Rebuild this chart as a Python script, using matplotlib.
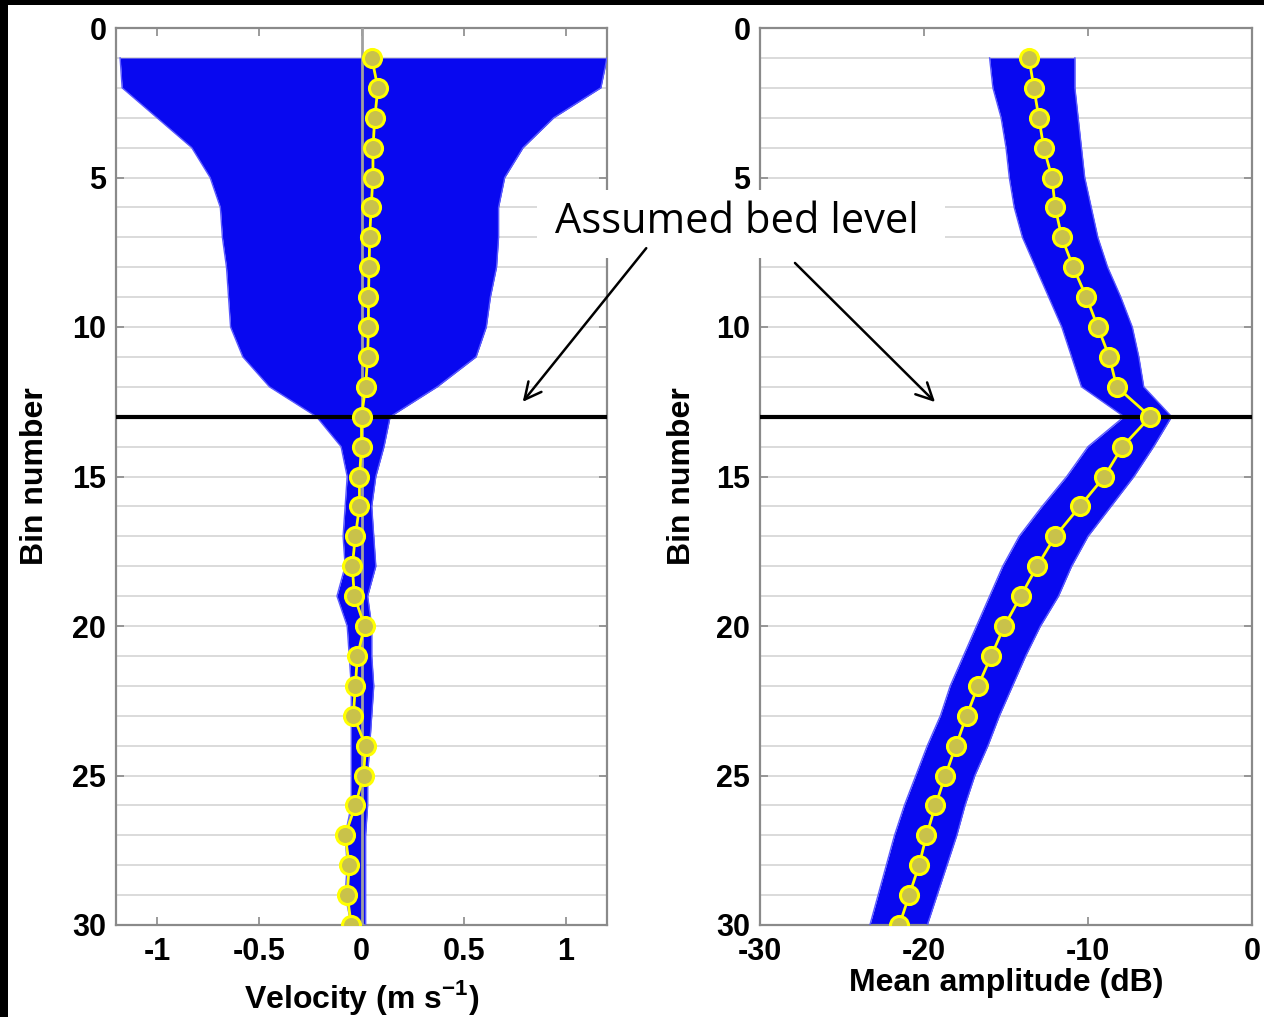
import numpy as np
import matplotlib
matplotlib.use('Agg')
import matplotlib.pyplot as plt
from matplotlib.patches import Rectangle, FancyArrowPatch
from matplotlib.ticker import MultipleLocator

# bins 1..30
bins = np.arange(1, 31)

# velocity panel: envelope of all profiles and the mean profile
vel_low = [-1.18, -1.17, -1.00, -0.83, -0.74, -0.69, -0.68, -0.66, -0.65, -0.64,
           -0.58, -0.45, -0.22, -0.10, -0.07, -0.08, -0.09, -0.08, -0.12, -0.07,
           -0.06, -0.05, -0.05, -0.05, -0.05, -0.05, -0.08, -0.07, -0.08, -0.05]
vel_high = [1.20, 1.17, 0.94, 0.79, 0.70, 0.67, 0.67, 0.66, 0.63, 0.61,
            0.56, 0.37, 0.14, 0.11, 0.07, 0.05, 0.06, 0.07, 0.03, 0.05,
            0.05, 0.06, 0.05, 0.04, 0.03, 0.03, 0.02, 0.02, 0.02, 0.02]
vel_mean = [0.05, 0.08, 0.065, 0.056, 0.056, 0.047, 0.04, 0.037, 0.034, 0.034,
            0.03, 0.02, 0.0, 0.0, -0.01, -0.01, -0.03, -0.045, -0.035, 0.015,
            -0.02, -0.03, -0.04, 0.02, 0.01, -0.03, -0.08, -0.06, -0.07, -0.05]

# amplitude panel
amp_low = [-16.0, -15.8, -15.3, -15.0, -14.8, -14.5, -14.0, -13.2, -12.4, -11.6,
           -11.0, -10.4, -7.8, -10.0, -11.3, -12.8, -14.2, -15.2, -16.0, -16.8,
           -17.6, -18.4, -19.0, -19.8, -20.5, -21.2, -21.8, -22.3, -22.8, -23.3]
amp_high = [-10.8, -10.8, -10.6, -10.4, -10.2, -9.8, -9.4, -8.8, -8.0, -7.3,
            -6.9, -6.6, -4.9, -6.0, -7.2, -8.6, -10.0, -11.0, -11.8, -12.9,
            -13.8, -14.6, -15.4, -16.1, -16.9, -17.5, -18.0, -18.6, -19.2, -19.8]
amp_mean = [-13.6, -13.3, -13.0, -12.7, -12.2, -12.0, -11.6, -10.9, -10.1, -9.4,
            -8.7, -8.25, -6.2, -7.9, -9.0, -10.5, -12.0, -13.1, -14.1, -15.1,
            -15.9, -16.7, -17.4, -18.05, -18.7, -19.3, -19.85, -20.3, -20.9, -21.5]

bed_bin = 13

W, H = 1264, 1017
plt.rcParams['font.family'] = ['Liberation Sans', 'DejaVu Sans']
plt.rcParams['mathtext.fontset'] = 'custom'
plt.rcParams['mathtext.bf'] = 'Liberation Sans:bold'
plt.rcParams['mathtext.rm'] = 'Liberation Sans:bold'

fig = plt.figure(figsize=(W / 100, H / 100), dpi=100, facecolor='white')

blue = '#0808f0'
edge_blue = '#5a5aff'
tick_fs = 22
label_fs = 23


def style_axes(ax, xlim, xticks):
    ax.set_xlim(*xlim)
    ax.set_ylim(30, 0)
    ax.set_xticks(xticks)
    ax.set_yticks(range(0, 31, 5))
    ax.yaxis.set_minor_locator(MultipleLocator(1))
    ax.grid(True, which='both', axis='y', color='#d8d8d8', lw=1.3, zorder=0)
    ax.set_axisbelow(True)
    for s in ax.spines.values():
        s.set_color('#8a8a8a')
        s.set_linewidth(1.6)
    ax.tick_params(which='major', direction='in', length=6, width=1.2,
                   color='#8a8a8a', top=True, right=True,
                   labelsize=tick_fs, pad=7)
    ax.tick_params(which='minor', length=0)
    ax.tick_params(axis='x', pad=9)
    for lab in ax.get_yticklabels():
        lab.set_fontweight('bold')
    ax.axhline(bed_bin, color='black', lw=3, zorder=6)


# left panel: velocity
ax1 = fig.add_axes([116 / W, 1 - 925 / H, (607 - 116) / W, (925 - 28) / H])
ax1.fill_betweenx(bins, vel_low, vel_high, color=blue, lw=0, zorder=2)
ax1.plot(vel_low, bins, color=edge_blue, lw=1, zorder=3)
ax1.plot(vel_high, bins, color=edge_blue, lw=1, zorder=3)
ax1.axvline(0, color='#a0a0a0', lw=2, zorder=4)
ax1.plot(vel_mean, bins, color='#ffff00', lw=2, marker='o', ms=13,
         mfc='#c9c24a', mec='#ffff00', mew=2.2, zorder=7)
style_axes(ax1, (-1.2, 1.2), [-1, -0.5, 0, 0.5, 1])
ax1.set_xticklabels(['-1', '-0.5', '0', '0.5', '1'], fontweight='bold')
ax1.set_ylabel('Bin number', fontsize=label_fs, fontweight='bold')
ax1.yaxis.set_label_coords((50 - 116) / 491, 0.5)
ax1.set_xlabel(r'Velocity (m s$^{\mathbf{-1}}$)', fontsize=label_fs, fontweight='bold')
ax1.xaxis.set_label_coords(0.5, -(978 - 925) / 897)

# right panel: amplitude
ax2 = fig.add_axes([760 / W, 1 - 925 / H, (1252 - 760) / W, (925 - 28) / H])
ax2.fill_betweenx(bins, amp_low, amp_high, color=blue, lw=0, zorder=2)
ax2.plot(amp_low, bins, color=edge_blue, lw=1, zorder=3)
ax2.plot(amp_high, bins, color=edge_blue, lw=1, zorder=3)
ax2.plot(amp_mean, bins, color='#ffff00', lw=2, marker='o', ms=13,
         mfc='#c9c24a', mec='#ffff00', mew=2.2, zorder=7)
style_axes(ax2, (-30, 0), [-30, -20, -10, 0])
ax2.set_xticklabels(['-30', '-20', '-10', '0'], fontweight='bold')
ax2.set_ylabel('Bin number', fontsize=label_fs, fontweight='bold')
ax2.yaxis.set_label_coords((697 - 760) / 492, 0.5)
ax2.set_xlabel('Mean amplitude (dB)', fontsize=label_fs, fontweight='bold')
ax2.xaxis.set_label_coords(0.5, -(968 - 925) / 897)

# black frame strips of the original screenshot
fig.patches.append(Rectangle((0, 1 - 5 / H), 1, 5 / H, transform=fig.transFigure,
                             facecolor='black', lw=0, zorder=20))
fig.patches.append(Rectangle((0, 0), 8 / W, 1, transform=fig.transFigure,
                             facecolor='black', lw=0, zorder=20))

# annotation
fig.patches.append(Rectangle((537 / W, 1 - 258 / H), (945 - 537) / W, (258 - 190) / H,
                             transform=fig.transFigure, facecolor='white', lw=0, zorder=10))
fig.text(737 / W, 1 - 222 / H, 'Assumed bed level', fontsize=30,
         family=['Open Sans', 'DejaVu Sans'], ha='center', va='center', zorder=11)
for (x0, y0), (x1, y1) in [((648, 246), (521, 404)), ((793, 261), (937, 404))]:
    fig.add_artist(FancyArrowPatch(
        (x0 / W, 1 - y0 / H), (x1 / W, 1 - y1 / H), transform=fig.transFigure,
        arrowstyle='->', mutation_scale=30, lw=1.8, color='black', zorder=11))

fig.savefig('out.png', dpi=100, facecolor='white')
